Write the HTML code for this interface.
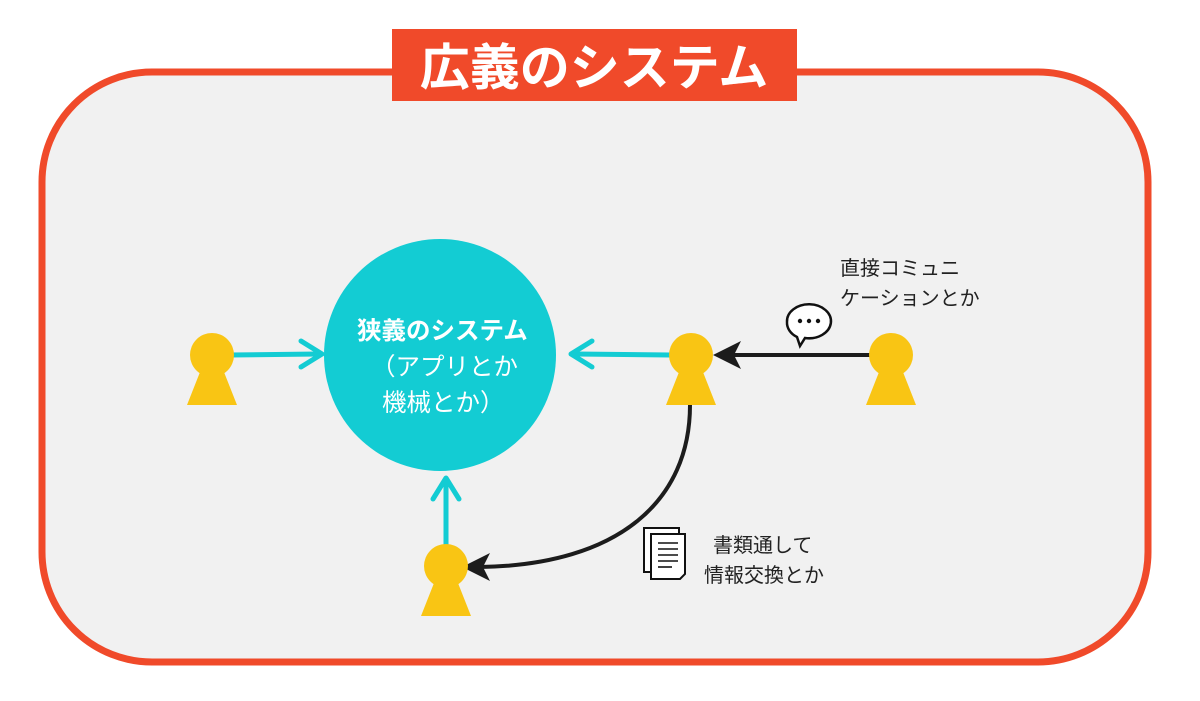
<!DOCTYPE html>
<html><head><meta charset="utf-8"><style>
html,body{margin:0;padding:0;background:#fff;}
svg{display:block;font-family:"Liberation Sans","Noto Sans CJK JP",sans-serif;}
</style></head><body>
<svg width="1200" height="701" viewBox="0 0 1200 701" xmlns="http://www.w3.org/2000/svg">
<defs>
<g id="p"><circle cx="0" cy="0" r="22" fill="#f9c514"/><polygon points="-10,12 10,12 25,50 -25,50" fill="#f9c514"/></g>
</defs>
<rect x="42" y="72" width="1106" height="590" rx="110" fill="#f1f1f1" stroke="#f04a2a" stroke-width="7"/>
<rect x="392" y="29" width="405" height="72" fill="#f04a2a"/>
<text x="594" y="85" text-anchor="middle" font-size="50" font-weight="bold" fill="#fff">広義のシステム</text>

<circle cx="440" cy="355" r="116" fill="#13ccd3"/>
<text x="357" y="339" font-size="24.5" font-weight="bold" fill="#fff">狭義のシステム</text>
<text x="371" y="375" font-size="24.5" fill="#fff">（アプリとか</text>
<text x="382" y="411" font-size="24.5" fill="#fff">機械とか）</text>

<g stroke="#13ccd3" stroke-width="5" fill="none" stroke-linecap="round" stroke-linejoin="round">
<line x1="230" y1="355" x2="318" y2="354"/><polyline points="301,341 322,354 301,367"/>
<line x1="670" y1="355" x2="575" y2="354"/><polyline points="592,341 571,354 592,367"/>
<line x1="446" y1="545" x2="446" y2="483"/><polyline points="433,499 446,478 459,499"/>
</g>
<g stroke="#1c1c1c" stroke-width="4" fill="none">
<line x1="870" y1="355" x2="730" y2="355"/>
<path d="M690,405 C690,500 620,565 480,567"/>
</g>
<polygon points="713,355 741,341 734,355 741,369" fill="#1c1c1c"/>
<polygon points="462,567 490,553 483,567 490,581" fill="#1c1c1c"/>

<use href="#p" x="212" y="355"/>
<use href="#p" x="691" y="355"/>
<use href="#p" x="891" y="355"/>
<use href="#p" x="446" y="566"/>

<g transform="translate(809,322)">
<path d="M-22,0 a22,17 0 1,1 18,16 l-5,8 l-3,-9 a22,17 0 0,1 -10,-15z" fill="#fff" stroke="#111" stroke-width="2.5"/>
<circle cx="-9" cy="-1" r="2.2" fill="#111"/><circle cx="0" cy="-1" r="2.2" fill="#111"/><circle cx="9" cy="-1" r="2.2" fill="#111"/>
</g>
<text x="840" y="275" font-size="20" fill="#222">直接コミュニ</text>
<text x="840" y="305" font-size="20" fill="#222">ケーションとか</text>

<g stroke="#111" stroke-width="2" fill="#fff">
<rect x="644" y="528" width="35" height="44"/>
<path d="M651,534 h34 v40 l-5,5 h-29z"/>
</g>
<g stroke="#111" stroke-width="1.6">
<line x1="658" y1="543" x2="678" y2="543"/><line x1="658" y1="549" x2="678" y2="549"/>
<line x1="658" y1="555" x2="678" y2="555"/><line x1="658" y1="561" x2="678" y2="561"/>
<line x1="658" y1="567" x2="672" y2="567"/>
</g>
<text x="713" y="552" font-size="20" fill="#222">書類通して</text>
<text x="704" y="582" font-size="20" fill="#222">情報交換とか</text>
</svg>
</body></html>
